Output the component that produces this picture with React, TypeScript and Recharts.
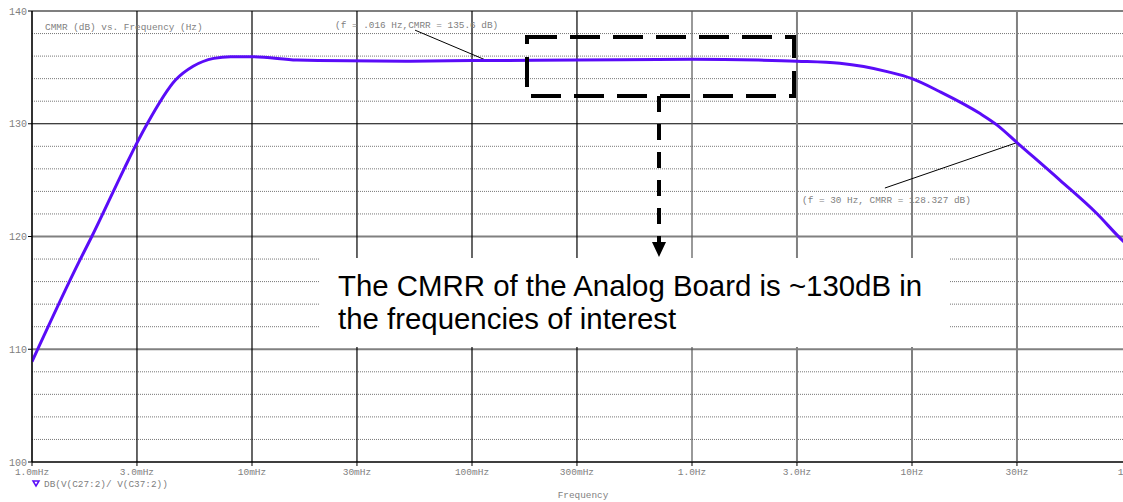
import React from "react";
import { LineChart, Line, XAxis, YAxis, ReferenceLine } from "recharts";

// frequency (Hz) and CMRR (dB)
const freqHz = [
  0.001, 0.00165, 0.00187, 0.00263, 0.003, 0.00334, 0.0045, 0.0054, 0.0067,
  0.008, 0.01, 0.016, 0.02, 0.05, 0.1, 0.3, 1, 2, 3, 4.7, 7.8, 10, 13.4, 20.4,
  24.3, 30, 47, 69, 90, 100,
];
const cmrrDb = [
  108.9, 117.9, 120.0, 126.05, 128.3, 130.0, 133.9, 135.1, 135.8, 135.95,
  135.95, 135.65, 135.6, 135.55, 135.6, 135.65, 135.72, 135.65, 135.55, 135.36,
  134.6, 134.0, 132.84, 130.9, 129.9, 128.33, 125.0, 122.06, 119.7, 118.9,
];

const xTicks = [0.001, 0.003, 0.01, 0.03, 0.1, 0.3, 1, 3, 10, 30, 100];
const xTickLabels = [
  "1.0mHz", "3.0mHz", "10mHz", "30mHz", "100mHz", "300mHz",
  "1.0Hz", "3.0Hz", "10Hz", "30Hz", "100Hz",
];
const yTicks = [100, 110, 120, 130, 140];
const yMinor = [102, 104, 106, 108, 112, 114, 116, 118, 122, 124, 126, 128, 132, 134, 136, 138];

// marker callouts: [x1, y1, x2, y2]
const callout1 = [0.0551, 138.3, 0.118, 135.57];
const callout2 = [7.53, 124.3, 30, 128.33];

const data = freqHz.map((f, i) => ({ f, db: cmrrDb[i] }));

const mono = "'Liberation Mono', 'DejaVu Sans Mono', monospace";
const sans = "'Liberation Sans', Arial, sans-serif";
const grey = "#808080";
const curveColor = "#5a0cf8";

// the plot runs right to the window edges
document.body.style.margin = "0";

const App = () => {
  return (
    <div
      style={{
        position: "relative",
        width: 1123,
        height: 502,
        overflow: "hidden",
        background: "#fff",
      }}
    >
      <LineChart
        width={1140}
        height={502}
        data={data}
        margin={{ top: 11, right: 8, bottom: 0, left: 0 }}
      >
        {yMinor.map((v) => (
          <ReferenceLine key={"m" + v} y={v} stroke="#777" strokeDasharray="1 1" strokeWidth={1} />
        ))}
        {yTicks.map((v) => (
          <ReferenceLine
            key={"y" + v}
            y={v}
            stroke={v === 120 || v === 110 ? grey : "#000"}
            strokeWidth={v === 120 || v === 110 ? 2 : 1.2}
          />
        ))}
        {xTicks.map((v) => (
          <ReferenceLine
            key={"x" + v}
            x={v}
            stroke={v < 1 ? "#000" : v < 3 ? "#555" : grey}
            strokeWidth={v < 3 ? 1.2 : 2}
          />
        ))}
        <XAxis
          dataKey="f"
          type="number"
          scale="log"
          domain={[0.001, 100]}
          allowDataOverflow
          ticks={xTicks}
          interval={0}
          tickFormatter={(v: number) => xTickLabels[xTicks.indexOf(v)]}
          height={40}
          tickSize={4}
          tickMargin={2}
          stroke="#000"
          tick={{ fill: grey, fontFamily: mono, fontSize: 9.5 }}
        />
        <YAxis
          type="number"
          domain={[100, 140]}
          ticks={yTicks}
          width={32}
          tickSize={4}
          tickMargin={1}
          stroke="#000"
          tick={{ fill: grey, fontFamily: mono, fontSize: 10 }}
        />
        <ReferenceLine
          segment={[
            { x: callout1[0], y: callout1[1] },
            { x: callout1[2], y: callout1[3] },
          ]}
          stroke="#000"
          strokeWidth={1}
          ifOverflow="visible"
        />
        <ReferenceLine
          segment={[
            { x: callout2[0], y: callout2[1] },
            { x: callout2[2], y: callout2[3] },
          ]}
          stroke="#000"
          strokeWidth={1}
          ifOverflow="visible"
        />
        <Line
          type="monotone"
          dataKey="db"
          stroke={curveColor}
          strokeWidth={3}
          dot={false}
          isAnimationActive={false}
        />
      </LineChart>

      {/* annotations on top */}
      <svg
        width={1123}
        height={502}
        style={{ position: "absolute", left: 0, top: 0, pointerEvents: "none" }}
      >
        <text x={45} y={30} fill={grey} fontFamily={mono} fontSize={9.4}>
          CMMR (dB) vs. Frequency (Hz)
        </text>
        <text x={335} y={28} fill={grey} fontFamily={mono} fontSize={9.4}>
          (f = .016 Hz,CMRR = 135.6 dB)
        </text>
        <text x={802} y={203} fill={grey} fontFamily={mono} fontSize={9.4}>
          (f = 30 Hz, CMRR = 128.327 dB)
        </text>
        <rect
          x={527}
          y={37}
          width={267}
          height={59}
          fill="none"
          stroke="#000"
          strokeWidth={4}
          strokeDasharray="30 13"
        />
        <line
          x1={659}
          y1={96}
          x2={659}
          y2={243}
          stroke="#000"
          strokeWidth={4}
          strokeDasharray="16 12"
        />
        <polygon points="652,242 666,242 659,257" fill="#000" />
        <rect x={319} y={258} width={631} height={89} fill="#fff" />
        <text x={338} y={296} fill="#000" fontFamily={sans} fontSize={29.4}>
          The CMRR of the Analog Board is ~130dB in
        </text>
        <text x={338} y={329} fill="#000" fontFamily={sans} fontSize={29.4}>
          the frequencies of interest
        </text>
        <polygon points="33,481 39,481 36,486" fill="none" stroke={curveColor} strokeWidth={1.5} />
        <text x={44} y={487} fill={grey} fontFamily={mono} fontSize={9.4}>
          DB(V(C27:2)/ V(C37:2))
        </text>
        <text x={583} y={498} fill={grey} fontFamily={mono} fontSize={9.4} textAnchor="middle">
          Frequency
        </text>
      </svg>
    </div>
  );
};

export default App;
